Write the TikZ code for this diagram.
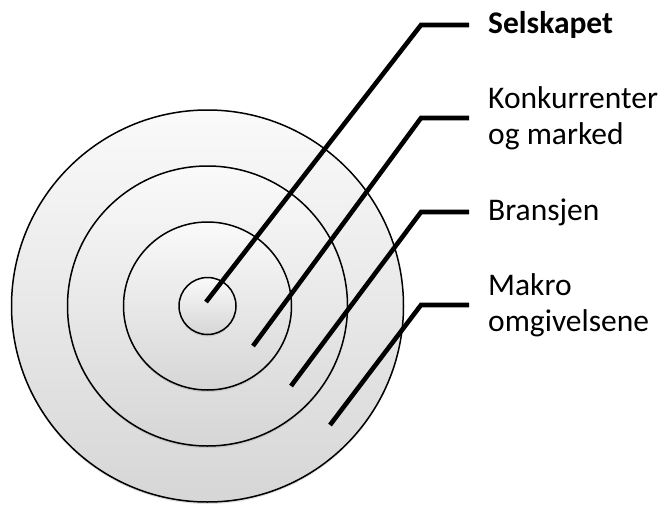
\documentclass[tikz,border=0pt]{standalone}
\usepackage{fontspec}
\setmainfont{Carlito}
\usetikzlibrary{shadows}
\begin{document}
\begin{tikzpicture}[x=1pt,y=-1pt,
  ring/.style={circle,draw=black,line width=1.5pt,minimum size=#1,inner sep=0pt,
    top color=gray!4,bottom color=gray!32,
    drop shadow={opacity=0.25,shadow xshift=0pt,shadow yshift=-2pt}},
  leader/.style={line width=4.6pt,line join=miter,line cap=butt},
  lbl/.style={anchor=west,align=left,inner xsep=19pt,inner ysep=0pt,
    font=\fontsize{31.5}{36}\selectfont}]
\useasboundingbox (0,0) rectangle (664,506);
\node[ring=392pt] (c4) at (207.5,306) {};
\node[ring=280pt] (c3) at (207.5,306) {};
\node[ring=168pt] (c2) at (207.5,306) {};
\node[ring=57pt]  (c1) at (207.5,306) {};
% labels
\node[lbl] (l1) at (469,25) {\textbf{Selskapet}};
\node[lbl] (l2) at (469,118) {Konkurrenter\\og marked};
\node[lbl] (l3) at (469,212) {Bransjen};
\node[lbl] (l4) at (469,305) {Makro\\omgivelsene};
% leader geometry
\coordinate (s1) at (206,302); \coordinate (k1) at (421,25);
\coordinate (s2) at (253,346); \coordinate (k2) at (421,118);
\coordinate (s3) at (291,386); \coordinate (k3) at (421,212);
\coordinate (s4) at (330,425); \coordinate (k4) at (421,305);
\draw[leader] (s1) -- (k1) -- (l1.west);
\draw[leader] (s2) -- (k2) -- (l2.west);
\draw[leader] (s3) -- (k3) -- (l3.west);
\draw[leader] (s4) -- (k4) -- (l4.west);
\end{tikzpicture}
\end{document}
